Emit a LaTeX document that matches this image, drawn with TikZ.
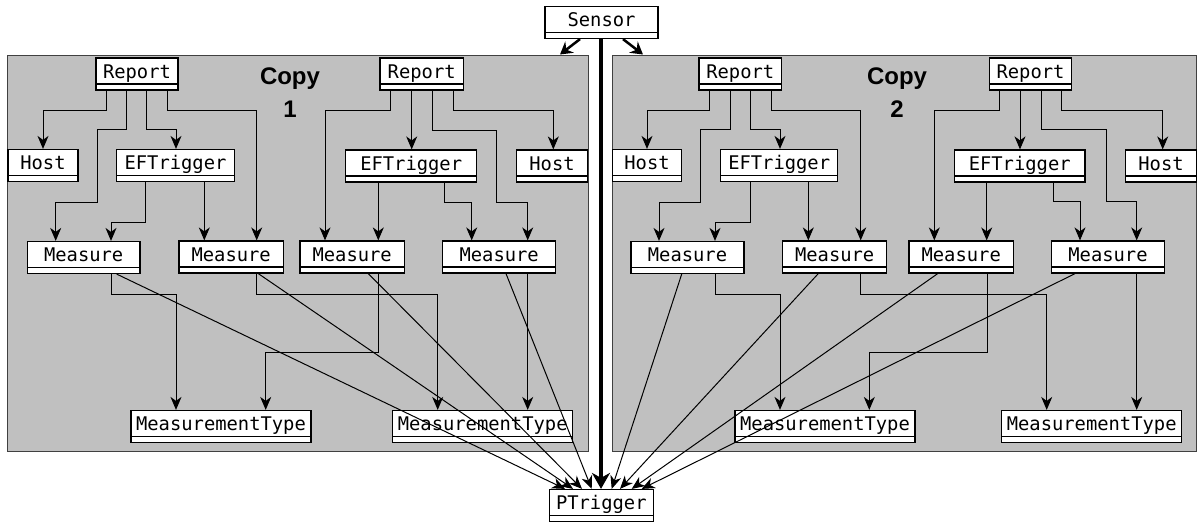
\documentclass[tikz,border=0pt]{standalone}
\usepackage{fontspec}
\setmainfont{Liberation Sans}
\newfontfamily\monof{DejaVu Sans Mono}
\usetikzlibrary{arrows.meta}
\definecolor{boxgrey}{HTML}{C0C0C0}
\definecolor{edgegrey}{HTML}{404040}
\begin{document}
\begin{tikzpicture}[x=1pt,y=-1pt,
  cls/.style={draw=black, line width=1.2pt, fill=white, inner xsep=0pt, inner ysep=0pt,
    text height=20pt, text depth=12pt,
    font=\monof\fontsize{18.8}{22}\selectfont,
    path picture={\draw[line width=1.2pt] ([yshift=6pt]path picture bounding box.south west) -- ([yshift=6pt]path picture bounding box.south east);}},
  container/.style={draw=edgegrey, line width=1pt, fill=boxgrey, inner sep=0pt},
  copylabel/.style={font=\bfseries\fontsize{24}{33}\selectfont, align=center, anchor=base, inner sep=0pt},
  conn/.style={draw=black, line width=1pt, -{Stealth[length=13pt,width=11pt,inset=4pt]}},
  thick/.style={draw=black, line width=2.5pt, -{Stealth[length=12pt,width=14pt,inset=4pt]}},
  spine/.style={draw=black, line width=4pt, -{Stealth[length=16pt,width=18pt,inset=5pt]}}
]
\useasboundingbox[fill=white] (0,0) rectangle (1197,525);

% containers
\node[container, minimum width=581pt, minimum height=396pt] (C1) at (297.5,253) {};
\node[container, minimum width=584.5pt, minimum height=396pt] (C2) at (904.25,253) {};
\node[copylabel] (L1) at (290,117.3) {Copy\\1};
\node[copylabel] (L2) at (897,117.3) {Copy\\2};

% top / bottom
\node[cls, minimum width=113pt] (S) at (601.5,22.5) {Sensor};
\node[cls, minimum width=104pt] (P) at (601.3,505.5) {PTrigger};

% copy 1
\node[cls, minimum width=82pt] (R1) at (137,74) {Report};
\node[cls, minimum width=70pt] (H1) at (43,165.5) {Host};
\node[cls, minimum width=117.6pt] (E1) at (175.5,165.5) {EFTrigger};
\node[cls, minimum width=112.7pt] (M1) at (83.7,257.5) {Measure};
\node[cls, minimum width=104.3pt] (M2) at (231.2,257) {Measure};
\node[cls, minimum width=83.3pt] (R2) at (421.7,74) {Report};
\node[cls, minimum width=131pt] (E2) at (411.2,166) {EFTrigger};
\node[cls, minimum width=71pt] (H2) at (552,166) {Host};
\node[cls, minimum width=104.3pt] (M3) at (352.2,257) {Measure};
\node[cls, minimum width=113pt] (M4) at (499.2,257) {Measure};
\node[cls, minimum width=180pt] (MT1) at (221,426.5) {MeasurementType};
\node[cls, minimum width=180pt] (MT2) at (482.7,426.5) {MeasurementType};

% copy 2
\node[cls, minimum width=82.7pt] (R3) at (740.3,74) {Report};
\node[cls, minimum width=69.4pt] (H3) at (647,165.5) {Host};
\node[cls, minimum width=117pt] (E3) at (779.2,165.5) {EFTrigger};
\node[cls, minimum width=113pt] (M5) at (687.5,257.5) {Measure};
\node[cls, minimum width=104pt] (M6) at (834.7,257) {Measure};
\node[cls, minimum width=82.4pt] (R4) at (1030.5,74) {Report};
\node[cls, minimum width=130.7pt] (E4) at (1019.7,166) {EFTrigger};
\node[cls, minimum width=71.7pt] (H4) at (1161,166) {Host};
\node[cls, minimum width=104.3pt] (M7) at (961.2,257) {Measure};
\node[cls, minimum width=112.6pt] (M8) at (1108,257) {Measure};
\node[cls, minimum width=180pt] (MT3) at (825,426.5) {MeasurementType};
\node[cls, minimum width=180pt] (MT4) at (1091.7,426.5) {MeasurementType};

% copy 1 edges
\draw[conn] (R1.south -| 106,0) |- (43,110.7) -- (H1.north);
\draw[conn] (R1.south -| 126,0) |- (97.7,129.3) |- (55.7,202.7) -- (M1.north -| 55.7,0);
\draw[conn] (R1.south -| 146.7,0) |- (176,129.3) -- (E1.north -| 176,0);
\draw[conn] (R1.south -| 167.7,0) |- (256.7,110.7) -- (M2.north -| 256.7,0);
\draw[conn] (E1.south -| 145.7,0) |- (111,222.7) -- (M1.north -| 111,0);
\draw[conn] (E1.south -| 204.3,0) -- (M2.north -| 204.3,0);
\draw[conn] (R2.south -| 390.7,0) |- (325,110.7) -- (M3.north -| 325,0);
\draw[conn] (R2.south -| 411.7,0) -- (E2.north -| 411.7,0);
\draw[conn] (R2.south -| 432.3,0) |- (496.7,130) |- (527.7,202.7) -- (M4.north -| 527.7,0);
\draw[conn] (R2.south -| 453.3,0) |- (553.3,110.7) -- (H2.north -| 553.3,0);
\draw[conn] (E2.south -| 378.3,0) -- (M3.north -| 378.3,0);
\draw[conn] (E2.south -| 444,0) |- (471.7,202.7) -- (M4.north -| 471.7,0);

% copy 2 edges
\draw[conn] (R3.south -| 709.3,0) |- (647,110.7) -- (H3.north);
\draw[conn] (R3.south -| 730,0) |- (700,129.3) |- (659,202.7) -- (M5.north -| 659,0);
\draw[conn] (R3.south -| 750.7,0) |- (780,129.3) -- (E3.north -| 780,0);
\draw[conn] (R3.south -| 771,0) |- (860.7,110.7) -- (M6.north -| 860.7,0);
\draw[conn] (E3.south -| 750,0) |- (715,222.7) -- (M5.north -| 715,0);
\draw[conn] (E3.south -| 808.3,0) -- (M6.north -| 808.3,0);
\draw[conn] (R4.south -| 999.3,0) |- (934.3,110.7) -- (M7.north -| 934.3,0);
\draw[conn] (R4.south -| 1020,0) -- (E4.north -| 1020,0);
\draw[conn] (R4.south -| 1041,0) |- (1106,129.3) |- (1136.7,201.7) -- (M8.north -| 1136.7,0);
\draw[conn] (R4.south -| 1061.7,0) |- (1162.7,110.7) -- (H4.north -| 1162.7,0);
\draw[conn] (E4.south -| 986.7,0) -- (M7.north -| 986.7,0);
\draw[conn] (E4.south -| 1053.3,0) |- (1080,201.7) -- (M8.north -| 1080,0);

% measures to measurement types
\draw[conn] (M1.south -| 111.7,0) |- (176,294) -- (MT1.north -| 176,0);
\draw[conn] (M2.south -| 256.7,0) |- (437.7,294) -- (MT2.north -| 437.7,0);
\draw[conn] (M3.south -| 378.3,0) |- (265.7,352.3) -- (MT1.north -| 265.7,0);
\draw[conn] (M4.south -| 527.7,0) -- (MT2.north -| 527.7,0);
\draw[conn] (M5.south -| 715.7,0) |- (780,294) -- (MT3.north -| 780,0);
\draw[conn] (M6.south -| 860.7,0) |- (1046.7,294) -- (MT4.north -| 1046.7,0);
\draw[conn] (M7.south -| 987.3,0) |- (869.3,352.3) -- (MT3.north -| 869.3,0);
\draw[conn] (M8.south -| 1136.7,0) -- (MT4.north -| 1136.7,0);

% measures to PTrigger
\draw[conn] (M1.south -| 116.7,0) -- (P.north -| 565,0);
\draw[conn] (M2.south -| 258.3,0) -- (P.north -| 573,0);
\draw[conn] (M3.south -| 368.3,0) -- (P.north -| 582,0);
\draw[conn] (M4.south -| 506,0) -- (P.north -| 591.7,0);
\draw[conn] (M5.south -| 681.7,0) -- (P.north -| 611.7,0);
\draw[conn] (M6.south -| 818.3,0) -- (P.north -| 620,0);
\draw[conn] (M7.south -| 937.7,0) -- (P.north -| 631.7,0);
\draw[conn] (M8.south -| 1075,0) -- (P.north -| 641.7,0);

% sensor
\draw[spine] (S.south -| 601,0) -- (P.north -| 601,0);
\draw[thick] (S.south -| 580,0) -- (C1.north -| 560,0);
\draw[thick] (S.south -| 623,0) -- (C2.north -| 643,0);
\end{tikzpicture}
\end{document}
